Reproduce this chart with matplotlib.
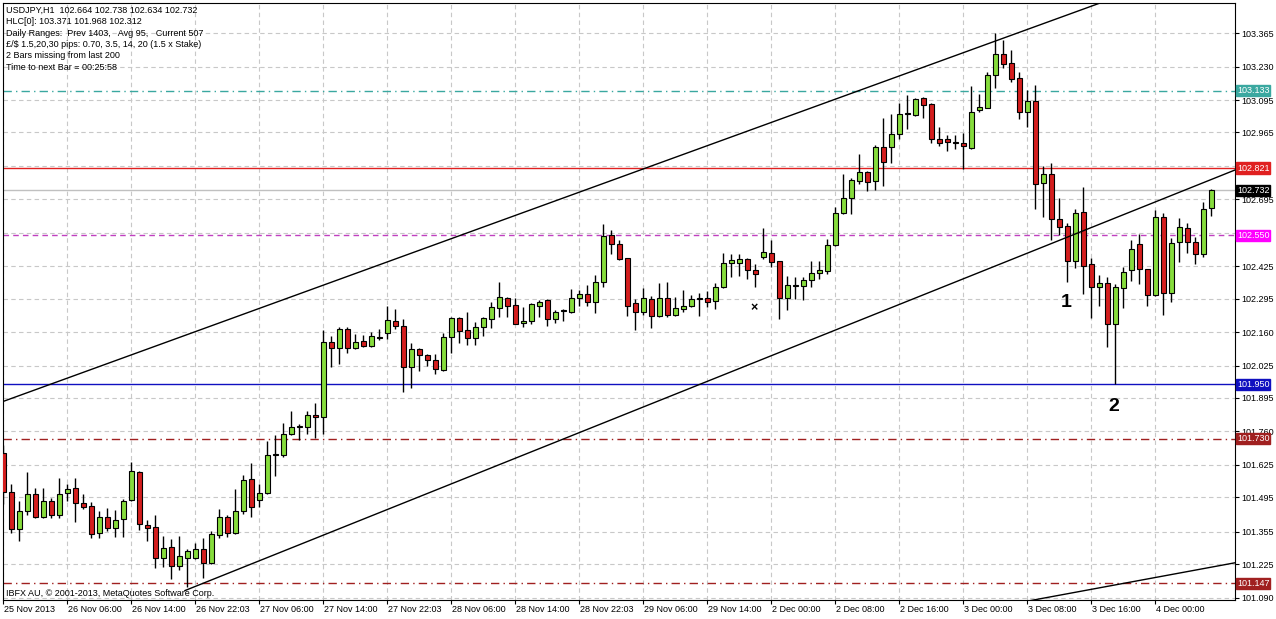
import matplotlib
matplotlib.use("Agg")
import matplotlib.pyplot as plt
import numpy as np
plt.rcParams['font.family'] = ['Liberation Sans', 'DejaVu Sans']

opens = [101.674,101.517,101.368,101.437,101.509,101.416,101.481,101.421,101.513,101.533,
101.469,101.457,101.352,101.416,101.372,101.408,101.485,101.594,101.384,101.376,
101.251,101.292,101.219,101.251,101.251,101.284,101.231,101.340,101.416,101.352,
101.437,101.566,101.485,101.513,101.666,101.666,101.747,101.779,101.779,101.824,
101.816,102.119,102.095,102.171,102.095,102.123,102.103,102.139,102.155,102.203,
102.183,102.018,102.091,102.066,102.046,102.006,102.139,102.215,102.167,102.135,
102.179,102.211,102.256,102.296,102.268,102.195,102.203,102.264,102.288,102.211,
102.244,102.240,102.296,102.312,102.280,102.361,102.550,102.514,102.457,102.276,
102.240,102.292,102.223,102.296,102.227,102.252,102.264,102.292,102.296,102.284,
102.340,102.437,102.437,102.453,102.409,102.461,102.477,102.445,102.296,102.344,
102.344,102.369,102.397,102.405,102.510,102.639,102.700,102.768,102.804,102.768,
102.906,102.906,102.958,103.039,103.035,103.103,103.079,102.938,102.938,102.922,
102.922,102.902,103.055,103.063,103.196,103.280,103.244,103.184,103.047,103.091,
102.760,102.796,102.614,102.586,102.445,102.643,102.433,102.340,102.357,102.191,
102.336,102.409,102.514,102.413,102.308,102.623,102.316,102.522,102.578,102.522,
102.473,102.659]
closes = [101.517,101.368,101.437,101.509,101.416,101.481,101.421,101.509,101.529,101.469,
101.453,101.348,101.416,101.372,101.404,101.481,101.598,101.388,101.372,101.251,
101.288,101.219,101.259,101.276,101.284,101.231,101.344,101.416,101.352,101.437,
101.562,101.453,101.513,101.666,101.668,101.747,101.779,101.781,101.824,101.816,
102.119,102.095,102.171,102.095,102.119,102.103,102.143,102.137,102.207,102.183,
102.018,102.091,102.066,102.046,102.010,102.139,102.215,102.163,102.135,102.179,
102.215,102.260,102.300,102.264,102.191,102.203,102.272,102.280,102.211,102.240,
102.246,102.296,102.312,102.280,102.361,102.546,102.514,102.453,102.264,102.240,
102.296,102.223,102.296,102.227,102.256,102.264,102.292,102.294,102.280,102.340,
102.437,102.449,102.453,102.409,102.393,102.481,102.441,102.296,102.348,102.346,
102.369,102.397,102.409,102.510,102.639,102.700,102.772,102.804,102.764,102.906,
102.845,102.958,103.039,103.041,103.099,103.075,102.938,102.922,102.926,102.920,
102.910,103.047,103.067,103.196,103.280,103.240,103.180,103.047,103.091,102.756,
102.796,102.614,102.582,102.445,102.639,102.425,102.340,102.357,102.191,102.340,
102.401,102.494,102.413,102.308,102.623,102.316,102.518,102.582,102.522,102.473,
102.655,102.732]
highs = [101.703,101.549,101.481,101.594,101.533,101.533,101.493,101.573,101.549,101.573,
101.509,101.473,101.437,101.449,101.441,101.489,101.638,101.598,101.404,101.424,
101.336,101.324,101.336,101.284,101.308,101.328,101.360,101.445,101.421,101.529,
101.582,101.634,101.549,101.719,101.743,101.795,101.840,101.791,101.840,101.872,
102.167,102.143,102.179,102.179,102.151,102.147,102.159,102.171,102.264,102.252,
102.211,102.115,102.095,102.070,102.070,102.155,102.219,102.219,102.240,102.199,
102.219,102.280,102.361,102.300,102.296,102.260,102.276,102.288,102.292,102.248,
102.252,102.332,102.328,102.348,102.389,102.594,102.570,102.530,102.457,102.292,
102.336,102.304,102.357,102.361,102.300,102.328,102.308,102.316,102.324,102.357,
102.477,102.473,102.473,102.457,102.433,102.578,102.530,102.445,102.385,102.381,
102.381,102.445,102.445,102.534,102.663,102.796,102.780,102.877,102.808,102.914,
103.022,103.039,103.083,103.115,103.103,103.106,103.083,102.986,102.954,102.954,
102.962,103.151,103.119,103.208,103.365,103.337,103.297,103.208,103.135,103.155,
102.829,102.841,102.699,102.598,102.655,102.744,102.457,102.389,102.381,102.353,
102.421,102.530,102.554,102.413,102.651,102.639,102.538,102.618,102.598,102.542,
102.683,102.738]
lows = [101.465,101.352,101.316,101.421,101.412,101.412,101.412,101.412,101.481,101.396,
101.445,101.328,101.328,101.360,101.332,101.332,101.477,101.364,101.316,101.207,
101.211,101.163,101.199,101.134,101.245,101.167,101.227,101.328,101.332,101.348,
101.425,101.416,101.453,101.509,101.578,101.658,101.743,101.723,101.751,101.731,
101.751,102.018,102.030,102.074,102.091,102.099,102.099,102.127,102.131,102.171,
101.917,101.933,102.002,102.022,101.990,102.002,102.074,102.115,102.107,102.107,
102.143,102.175,102.219,102.219,102.191,102.179,102.191,102.219,102.183,102.195,
102.203,102.236,102.264,102.264,102.236,102.340,102.473,102.449,102.223,102.167,
102.227,102.175,102.219,102.219,102.223,102.240,102.260,102.223,102.260,102.252,
102.336,102.381,102.385,102.373,102.340,102.453,102.421,102.211,102.248,102.292,
102.288,102.340,102.373,102.393,102.506,102.635,102.635,102.756,102.728,102.732,
102.748,102.841,102.938,102.978,103.030,103.022,102.922,102.910,102.889,102.898,
102.817,102.898,103.047,103.063,103.143,103.224,103.168,103.018,102.986,102.655,
102.623,102.530,102.550,102.361,102.417,102.312,102.215,102.264,102.099,101.949,
102.256,102.365,102.353,102.264,102.304,102.227,102.280,102.441,102.477,102.433,
102.461,102.627]

xlabels = ["25 Nov 2013","26 Nov 06:00","26 Nov 14:00","26 Nov 22:03","27 Nov 06:00",
"27 Nov 14:00","27 Nov 22:03","28 Nov 06:00","28 Nov 14:00","28 Nov 22:03",
"29 Nov 06:00","29 Nov 14:00","2 Dec 00:00","2 Dec 08:00","2 Dec 16:00",
"3 Dec 00:00","3 Dec 08:00","3 Dec 16:00","4 Dec 00:00"]
yticks = [103.365,103.230,103.095,102.965,102.830,102.695,102.560,102.425,102.295,
102.160,102.025,101.895,101.760,101.625,101.495,101.355,101.225,101.090]
hidden_ticks = [102.830,102.560]
levels = [103.133,102.821,102.732,102.550,101.950,101.730,101.147]
level_colors = ["#3aa8a0","#e02020","#000000","#ff00ff","#1010c0","#a02020","#a02020"]
level_styles = [(0,(6,3,1,3)),"-","-",(0,(4,3)),"-",(0,(6,3,1,3)),(0,(6,3,1,3))]
line_colors = ["#3aa8a0","#e02020","#c0c0c0","#c040c0","#1010c0","#a02020","#a02020"]
channels = [((-0.04,101.880),(137.1,103.486)),((22.7,101.118),(153.96,102.813)),
            ((127.1,101.070),(153.96,101.230))]

W,H = 1276,619
fig = plt.figure(figsize=(W/100,H/100),dpi=100)
ax = fig.add_axes([3/W, 1-600/H, (1235-3)/W, (600-3)/H])
ymin, ymax = 101.080, 103.486
ax.set_xlim(-0.04,153.96); ax.set_ylim(ymin,ymax)

for t in yticks:
    ax.axhline(t,color="#c8c8c8",lw=0.8,ls=(0,(4,3)),zorder=0)
for i in range(len(xlabels)):
    ax.axvline(i*8,color="#c8c8c8",lw=0.8,ls=(0,(4,3)),zorder=0)

n = len(opens)
x = np.arange(n)
o = np.array(opens); c = np.array(closes)
ax.vlines(x,lows,highs,color="black",lw=1,zorder=2)
up = c>=o
cols = np.where(up,"#86dc3c","#d41e1e")
h = np.abs(c-o); h = np.maximum(h,0.004)
ax.bar(x,h,bottom=np.minimum(o,c),width=0.62,color=cols,edgecolor="black",lw=0.8,zorder=3)

for lv,lc,ls in zip(levels,line_colors,level_styles):
    ax.axhline(lv,color=lc,lw=1,ls=ls,zorder=1)
for (p0,p1) in channels:
    ax.plot([p0[0],p1[0]],[p0[1],p1[1]],color="black",lw=1,zorder=4)

ax.set_yticks(yticks)
ax.yaxis.tick_right()
ax.set_yticklabels(["" if t in hidden_ticks else f"{t:.3f}" for t in yticks],fontsize=6.5)
ax.tick_params(axis="y",length=3,pad=1.5)
ax.set_xticks([i*8 for i in range(len(xlabels))])
ax.set_xticklabels([])
ax.tick_params(axis="x",length=3)
for i,l in enumerate(xlabels):
    ax.text(i*8+0.1,-0.008,l,transform=ax.get_xaxis_transform(),fontsize=6.5,va="top",ha="left")
for s in ax.spines.values():
    s.set_color("black"); s.set_linewidth(0.8)

for lv,lc in zip(levels,level_colors):
    ax.text(1.0015,lv,f"{lv:.3f}",transform=ax.get_yaxis_transform(),fontsize=6.5,color="white",
            va="center",ha="left",zorder=10,clip_on=False,
            bbox=dict(boxstyle="square,pad=0.12",fc=lc,ec=lc))

info = ["USDJPY,H1  102.664 102.738 102.634 102.732","HLC[0]: 103.371 101.968 102.312",
"Daily Ranges:  Prev 1403,   Avg 95,   Current 507",
"£/$ 1.5,20,30 pips: 0.70, 3.5, 14, 20 (1.5 x Stake)",
"2 Bars missing from last 200","Time to next Bar = 00:25:58"]
for k,s in enumerate(info):
    fig.text(6/W,1-(10+11.5*k)/H,s,fontsize=6.5,va="center",ha="left")
fig.text(6/W,1-593/H,"IBFX AU, © 2001-2013, MetaQuotes Software Corp.",fontsize=6.5,va="center")
ax.text(132.8,102.28,"1",fontsize=14,fontweight="bold",ha="center",va="center")
ax.text(138.8,101.86,"2",fontsize=14,fontweight="bold",ha="center",va="center")
ax.text(93.9,102.255,"×",fontsize=9,fontweight="bold",ha="center",va="center")
fig.savefig("out.png",dpi=100)
